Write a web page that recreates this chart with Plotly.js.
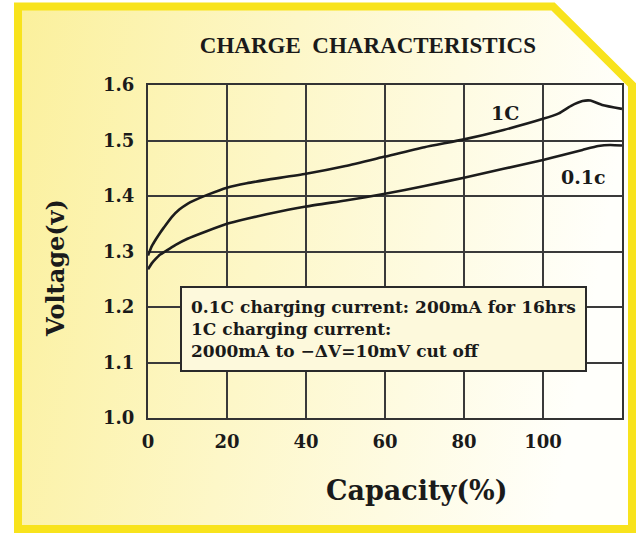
<!DOCTYPE html>
<html>
<head>
<meta charset="utf-8">
<script src="https://cdn.plot.ly/plotly-3.0.1.min.js"></script>
<style>
html,body{margin:0;padding:0;background:#ffffff;}
#wrap{position:relative;width:641px;height:533px;overflow:hidden;}
#bg{position:absolute;left:0;top:0;}
#chart{position:absolute;left:0;top:0;width:641px;height:533px;}
</style>
</head>
<body>
<div id="wrap">
<svg id="bg" width="641" height="533">
<defs>
<linearGradient id="g" x1="0" y1="0" x2="1" y2="0.15">
<stop offset="0" stop-color="#fbf09c"/>
<stop offset="0.45" stop-color="#fdf7c8"/>
<stop offset="1" stop-color="#fffffb"/>
</linearGradient>
</defs>
<path d="M18,6.5 L553,6.5 L632,85 L632,529 L18,529 Z" fill="url(#g)" stroke="#f8e31c" stroke-width="8" stroke-linejoin="miter"/>
</svg>
<div id="chart"></div>
</div>
<script>
var cap1C = [0,1,2,3,4,6,8,10,12,15,20,25,30,40,50,60,70,80,90,100,104,107,110,112,115,120];
var volt1C = [1.293,1.310,1.322,1.333,1.343,1.362,1.376,1.386,1.393,1.402,1.415,1.423,1.429,1.440,1.454,1.471,1.488,1.502,1.519,1.539,1.549,1.562,1.571,1.572,1.564,1.557];
var cap01C = [0,1,2,3,5,7,10,15,20,25,30,40,50,60,70,80,90,100,105,110,114,117,120];
var volt01C = [1.268,1.279,1.287,1.294,1.303,1.312,1.323,1.337,1.350,1.359,1.367,1.381,1.392,1.404,1.418,1.433,1.449,1.465,1.474,1.483,1.490,1.492,1.491];
var xTicks = [0,20,40,60,80,100];
var yTicks = [1.0,1.1,1.2,1.3,1.4,1.5,1.6];
var yTickText = ['1.0','1.1','1.2','1.3','1.4','1.5','1.6'];
var titleText = 'CHARGE&nbsp;&nbsp;CHARACTERISTICS';
var noteLines = ['0.1C charging current: 200mA for 16hrs','1C charging current:','2000mA to −ΔV=10mV cut off'];

var serif = 'DejaVu Serif, Liberation Serif, serif';
var lineStyle = {color:'#1c1c1c', width:2.6, shape:'spline', smoothing:0.5};

var data = [
  {x:cap1C, y:volt1C, mode:'lines', name:'1C', line:lineStyle, hoverinfo:'x+y'},
  {x:cap01C, y:volt01C, mode:'lines', name:'0.1c', line:lineStyle, hoverinfo:'x+y'}
];

var axisCommon = {
  showline:true, mirror:true, linecolor:'#333333', linewidth:2,
  showgrid:true, gridcolor:'#3a3a3a', gridwidth:2,
  zeroline:false, ticks:'', fixedrange:true,
  tickfont:{family:serif, size:18, color:'#1a1a1a', weight:'bold'}
};

var layout = {
  width:641, height:533,
  paper_bgcolor:'rgba(0,0,0,0)', plot_bgcolor:'rgba(0,0,0,0)',
  margin:{l:148, r:19, t:85, b:115},
  showlegend:false,
  title:{text:titleText, x:0.574, xanchor:'center', xref:'container', y:0.915, yanchor:'middle', yref:'container',
         font:{family:'Liberation Serif, serif', size:23, color:'#1a1a1a', weight:'bold'}},
  xaxis:Object.assign({}, axisCommon, {range:[0,120], tickvals:xTicks, ticktext:xTicks.map(String), ticklabelstandoff:6}),
  yaxis:Object.assign({}, axisCommon, {range:[1.0,1.6], tickvals:yTicks, ticktext:yTickText, ticklabelstandoff:8}),
  annotations:[
    {text:'Capacity(%)', xref:'paper', yref:'paper', x:(416-148)/474, y:-(490-418)/333, xanchor:'center', yanchor:'middle', showarrow:false,
     font:{family:serif, size:27, color:'#1a1a1a', weight:'bold'}},
    {text:'Voltage(v)', xref:'paper', yref:'paper', x:-(148-55)/474, y:(418-268)/333, xanchor:'center', yanchor:'middle', showarrow:false, textangle:-90,
     font:{family:serif, size:24, color:'#1a1a1a', weight:'bold'}},
    {text:'1C', x:90.5, y:1.55, xref:'x', yref:'y', showarrow:false, xanchor:'center', yanchor:'middle',
     font:{family:serif, size:19, color:'#1a1a1a', weight:'bold'}},
    {text:'0.1c', x:110.3, y:1.434, xref:'x', yref:'y', showarrow:false, xanchor:'center', yanchor:'middle',
     font:{family:serif, size:19, color:'#1a1a1a', weight:'bold'}},
    {text:noteLines.join('<br>'), xref:'x', yref:'y', x:8.1, y:1.238, xanchor:'left', yanchor:'top', showarrow:false, align:'left',
     bgcolor:'#fdf9dc', bordercolor:'#2a2a2a', borderwidth:2, borderpad:9,
     font:{family:serif, size:17, color:'#1a1a1a', weight:'bold'}}
  ]
};

Plotly.newPlot('chart', data, layout, {displayModeBar:false, staticPlot:true});
</script>
</body>
</html>
